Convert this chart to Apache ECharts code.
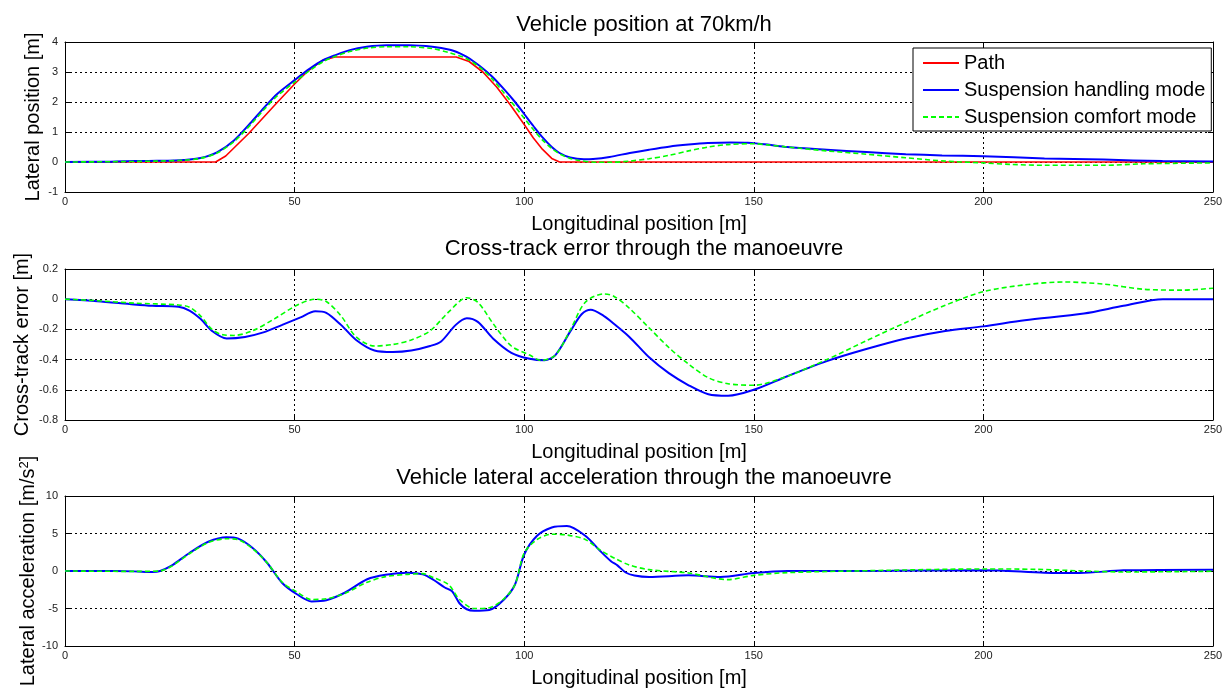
<!DOCTYPE html>
<html>
<head>
<meta charset="utf-8">
<script src="https://cdn.jsdelivr.net/npm/echarts@6/dist/echarts.min.js"></script>
<style>
html,body{margin:0;padding:0;background:#fff;}
#c{width:1231px;height:691px;}
</style>
</head>
<body>
<div id="c"></div>
<script>
// ---------- data ----------
const xTicks = [0, 50, 100, 150, 200, 250];
const seriesNames = ['Path', 'Suspension handling mode', 'Suspension comfort mode'];
const titles = ['Vehicle position at 70km/h', 'Cross-track error through the manoeuvre', 'Vehicle lateral acceleration through the manoeuvre'];
const xName = 'Longitudinal position [m]';
const yNames = ['Lateral position [m]', 'Cross-track error [m]', 'Lateral acceleration [m/s{sup|2}]'];
const yRange1 = [-1, 4, 1];
const yRange2 = [-0.8, 0.2, 0.2];
const yRange3 = [-10, 10, 5];

// Lateral position [x, y]
const posPath = [[0,0],[32.8,0],[35,0.2],[37,0.5],[40,0.95],[43,1.45],[46,1.95],[50,2.6],[53,3.05],[56,3.38],[58.8,3.5],[85.2,3.5],[88,3.35],[91,3.0],[94,2.5],[97,1.9],[100,1.25],[102,0.8],[104,0.42],[106,0.12],[107.7,0],[250,0]];
const posHandling = [[0,0],[10,0.01],[15,0.03],[20,0.04],[25.9,0.07],[29.5,0.13],[33.1,0.32],[36.8,0.72],[40.4,1.3],[43.3,1.8],[46.2,2.27],[50,2.73],[53.4,3.12],[56.3,3.4],[58.5,3.54],[62,3.73],[65.7,3.84],[70,3.89],[75,3.89],[80,3.84],[83.8,3.74],[86,3.62],[87.4,3.51],[89,3.35],[91,3.12],[93,2.85],[95.4,2.46],[98,2.0],[100,1.6],[102,1.2],[104,0.82],[106,0.5],[107.7,0.3],[110,0.15],[113,0.09],[115,0.1],[118.6,0.17],[123,0.3],[127.2,0.41],[131.5,0.51],[135.8,0.58],[140,0.63],[145,0.65],[148.7,0.64],[153,0.58],[157.3,0.5],[165.9,0.41],[174.5,0.33],[183.1,0.26],[191,0.22],[200,0.19],[213.3,0.12],[226.2,0.08],[239,0.03],[250,0.02]];
const posComfort = [[0,0],[10,0.01],[20,0.03],[25.9,0.06],[29.5,0.12],[33.1,0.3],[36.8,0.68],[40.4,1.24],[43.3,1.74],[46.2,2.2],[50,2.66],[53.4,3.06],[56.3,3.35],[58.5,3.5],[62,3.68],[66,3.8],[70,3.84],[75,3.84],[80,3.78],[83.8,3.64],[86,3.53],[87.4,3.45],[89,3.3],[91,3.07],[93,2.77],[95.4,2.34],[98,1.85],[100,1.46],[102,1.08],[104,0.73],[106,0.45],[107.7,0.27],[110,0.12],[112,0.05],[115.7,-0.01],[118.6,-0.01],[122.9,0.03],[127.2,0.11],[131.5,0.22],[135.8,0.37],[140.1,0.5],[144.4,0.58],[150,0.61],[153,0.57],[157.3,0.5],[165.9,0.37],[174.5,0.26],[183.1,0.14],[191.7,0.03],[200,-0.03],[206,-0.08],[213.3,-0.11],[226.2,-0.11],[234.8,-0.06],[250,-0.03]];

// Cross-track error [x, y]
const cteHandling = [[0,0],[7,-0.013],[15,-0.035],[19,-0.044],[24.7,-0.05],[27.1,-0.075],[29.5,-0.13],[32,-0.21],[35.2,-0.26],[39.2,-0.25],[43.2,-0.22],[47.3,-0.17],[51.3,-0.12],[54.5,-0.08],[56.9,-0.09],[60.1,-0.17],[63.4,-0.27],[67.4,-0.34],[71.4,-0.35],[75.4,-0.34],[79.5,-0.31],[81.9,-0.28],[85.1,-0.17],[87.5,-0.126],[89.9,-0.15],[93.2,-0.26],[97.2,-0.355],[101.2,-0.395],[104.4,-0.405],[106.8,-0.37],[110.1,-0.21],[112.5,-0.1],[114.5,-0.07],[117.3,-0.11],[119,-0.15],[122.9,-0.25],[127.2,-0.385],[131.5,-0.49],[135.8,-0.57],[140.1,-0.63],[144.4,-0.64],[150,-0.6],[157.3,-0.51],[165.9,-0.41],[174.5,-0.33],[183.1,-0.26],[191.7,-0.21],[200,-0.18],[209,-0.14],[221.9,-0.095],[230.5,-0.044],[239.1,0],[250,0]];
const cteComfort = [[0,0],[7,-0.01],[15,-0.026],[24.7,-0.038],[27.1,-0.053],[29.5,-0.11],[32,-0.2],[34.4,-0.236],[36.8,-0.24],[40.8,-0.21],[45.6,-0.13],[50.5,-0.04],[54.5,0],[56.9,-0.015],[60.1,-0.11],[63.4,-0.25],[67.4,-0.31],[71.4,-0.3],[75.4,-0.27],[79.5,-0.21],[83.5,-0.086],[87.5,0.01],[89.9,-0.02],[93.2,-0.16],[97.2,-0.31],[101.2,-0.37],[103.6,-0.405],[106.8,-0.37],[110.1,-0.2],[113.3,-0.02],[117.3,0.035],[119.5,0.02],[122.9,-0.06],[127.2,-0.19],[131.5,-0.32],[135.8,-0.43],[140.1,-0.52],[144.4,-0.56],[150,-0.57],[157.3,-0.51],[165.9,-0.4],[174.5,-0.275],[183.1,-0.154],[191.7,-0.04],[200,0.05],[209,0.095],[217.6,0.114],[226.2,0.1],[234.8,0.066],[243.4,0.06],[250,0.073]];

// Lateral acceleration [x, y]
const accHandling = [[0,0],[7,0],[15,-0.05],[19.1,-0.13],[20.7,0],[23.1,0.67],[27.1,2.4],[31.2,3.9],[35.2,4.5],[37.6,4.35],[40.8,3.1],[44,1.1],[47.3,-1.6],[50.5,-3.1],[53.7,-4.05],[56.9,-3.9],[60.9,-2.9],[65.8,-1.1],[69.8,-0.5],[74.6,-0.22],[77.9,-0.44],[80.3,-1.2],[82.7,-2.2],[84.3,-2.7],[85.9,-4.3],[87.5,-5.1],[89.1,-5.3],[92.4,-5.2],[95.6,-3.8],[98,-1.8],[100,2.2],[102.8,4.7],[106,5.8],[109.3,6.0],[113.3,4.7],[116.5,2.7],[118.9,1.3],[120.3,0.75],[122.1,-0.2],[124,-0.6],[127.2,-0.8],[135.8,-0.58],[142.7,-0.8],[150,-0.27],[157.3,0],[180,0.02],[200,0.09],[213.3,-0.22],[221,-0.27],[230.5,0.09],[250,0.18]];
const accComfort = [[0,0],[15,-0.05],[20.7,0],[23.1,0.6],[27.1,2.3],[31.2,3.8],[35.2,4.3],[37.6,4.2],[40.8,3.0],[44,1.1],[47.3,-1.5],[50.5,-2.8],[53.7,-3.8],[56.9,-3.7],[60.9,-3.0],[65.8,-1.5],[69.8,-0.75],[74.6,-0.45],[77.9,-0.35],[80.3,-0.9],[83.5,-1.8],[85.9,-3.8],[89.1,-5.0],[92.4,-4.9],[95.6,-3.7],[98,-1.8],[100,2.4],[102.8,4.2],[106,4.9],[109.3,4.8],[113.3,4.2],[116.5,2.8],[119.7,1.7],[122.9,0.8],[127.2,0.18],[135.8,-0.27],[144.4,-1.15],[150,-0.58],[157.3,-0.22],[179,0.09],[200.3,0.27],[211.5,0.22],[221.9,0],[230.5,-0.13],[250,-0.04]];

// ---------- chart ----------
const FONT = '"Liberation Sans", Arial, sans-serif';
const gridTops = [42, 269, 496];
const gridHeights = [150, 151, 150];
const titleTops = [9, 233, 462];
const yNameGaps = [22, 33, 27];
const yRanges = [yRange1, yRange2, yRange3];
const lineData = [[posPath, posHandling, posComfort], [null, cteHandling, cteComfort], [null, accHandling, accComfort]];
const colors = ['#ff0000', '#0000ff', '#00ff00'];

const grid = [], xAxis = [], yAxis = [], series = [], title = [];
const gridLine = {show: true, lineStyle: {color: '#000', type: [2, 3], width: 1}};
for (let i = 0; i < 3; i++) {
  grid.push({left: 65, right: 18, top: gridTops[i], height: gridHeights[i], containLabel: false});
  title.push({text: titles[i], left: 639, top: titleTops[i], textAlign: 'center',
    textStyle: {fontFamily: FONT, fontSize: 22, fontWeight: 'normal', color: '#000'}});
  xAxis.push({type: 'value', gridIndex: i, min: xTicks[0], max: xTicks[xTicks.length - 1], interval: xTicks[1] - xTicks[0],
    name: xName, nameLocation: 'middle', nameGap: 22, nameMoveOverlap: false,
    nameTextStyle: {fontFamily: FONT, fontSize: 20, color: '#000'},
    axisLine: {show: true, onZero: false, lineStyle: {color: '#000', width: 1}},
    axisTick: {show: true, inside: true, length: 5, lineStyle: {color: '#000'}},
    axisLabel: {fontFamily: FONT, fontSize: 11, color: '#222', margin: 4},
    splitLine: gridLine});
  xAxis.push({type: 'value', gridIndex: i, position: 'top', min: xTicks[0], max: xTicks[xTicks.length - 1], interval: xTicks[1] - xTicks[0],
    axisLine: {show: true, onZero: false, lineStyle: {color: '#000', width: 1}},
    axisTick: {show: true, inside: true, length: 5, lineStyle: {color: '#000'}},
    axisLabel: {show: false}, splitLine: {show: false}});
  const r = yRanges[i];
  const yn = {fontFamily: FONT, fontSize: 20, color: '#000'};
  if (i === 2) yn.rich = {sup: {fontFamily: FONT, fontSize: 13, color: '#000', verticalAlign: 'top', lineHeight: 20}};
  yAxis.push({type: 'value', gridIndex: i, min: r[0], max: r[1], interval: r[2],
    name: yNames[i], nameLocation: 'middle', nameGap: yNameGaps[i], nameMoveOverlap: false, nameTextStyle: yn,
    axisLine: {show: true, onZero: false, lineStyle: {color: '#000', width: 1}},
    axisTick: {show: true, inside: true, length: 5, lineStyle: {color: '#000'}},
    axisLabel: {fontFamily: FONT, fontSize: 11, color: '#222', margin: 7,
      formatter: v => String(Math.round(v * 10) / 10)},
    splitLine: gridLine});
  yAxis.push({type: 'value', gridIndex: i, position: 'right', min: r[0], max: r[1], interval: r[2],
    axisLine: {show: true, onZero: false, lineStyle: {color: '#000', width: 1}},
    axisTick: {show: true, inside: true, length: 5, lineStyle: {color: '#000'}},
    axisLabel: {show: false}, splitLine: {show: false}});
  for (let s = 0; s < 3; s++) {
    const d = lineData[i][s];
    if (!d) continue;
    series.push({type: 'line', name: seriesNames[s], xAxisIndex: 2 * i, yAxisIndex: 2 * i, data: d,
      symbol: 'none', smooth: s === 0 ? false : 0.3, z: s === 2 ? 4 : (s === 1 ? 3 : 2),
      lineStyle: {color: colors[s], width: s === 1 ? 2 : 1.6, type: s === 2 ? [5, 3] : 'solid'},
      itemStyle: {color: colors[s]}, emphasis: {disabled: true}});
  }
}

const chart = echarts.init(document.getElementById('c'), null, {renderer: 'canvas'});
chart.setOption({
  animation: false,
  backgroundColor: '#fff',
  title: title,
  grid: grid,
  xAxis: xAxis,
  yAxis: yAxis,
  legend: {data: seriesNames, orient: 'vertical', left: 913, top: 48,
    backgroundColor: '#fff', borderColor: '#000', borderWidth: 1, borderRadius: 0,
    padding: [4, 6, 3, 9], itemGap: 5, itemWidth: 36, itemHeight: 14,
    itemStyle: {opacity: 0},
    textStyle: {fontFamily: FONT, fontSize: 20, color: '#000', lineHeight: 22},
    selectedMode: false, z: 10},
  series: series
});
</script>
</body>
</html>
